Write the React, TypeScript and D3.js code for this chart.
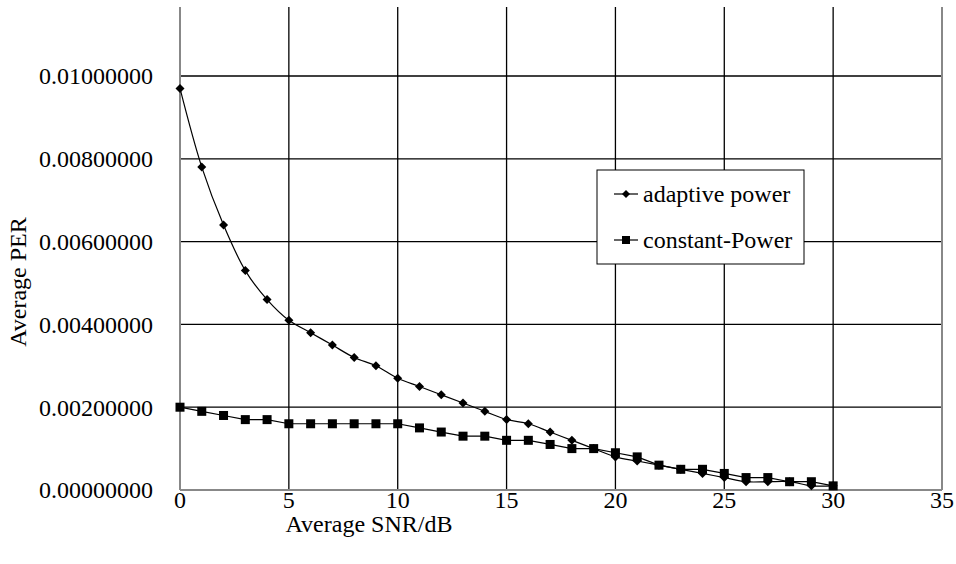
import React from 'react';
import * as d3 from 'd3';

const snr = d3.range(0, 31);
const adaptivePower = [
  0.0097, 0.0078, 0.0064, 0.0053, 0.0046, 0.0041, 0.0038, 0.0035, 0.0032, 0.003,
  0.0027, 0.0025, 0.0023, 0.0021, 0.0019, 0.0017, 0.0016, 0.0014, 0.0012, 0.001,
  0.0008, 0.0007, 0.0006, 0.0005, 0.0004, 0.0003, 0.0002, 0.0002, 0.0002, 0.0001,
  0.0001,
];
const constantPower = [
  0.002, 0.0019, 0.0018, 0.0017, 0.0017, 0.0016, 0.0016, 0.0016, 0.0016, 0.0016,
  0.0016, 0.0015, 0.0014, 0.0013, 0.0013, 0.0012, 0.0012, 0.0011, 0.001, 0.001,
  0.0009, 0.0008, 0.0006, 0.0005, 0.0005, 0.0004, 0.0003, 0.0003, 0.0002, 0.0002,
  0.0001,
];
const xTicks = [0, 5, 10, 15, 20, 25, 30, 35];
const yTicks = [0, 0.002, 0.004, 0.006, 0.008, 0.01];
const seriesNames = ['adaptive power', 'constant-Power'];

const textStyle = { fontFamily: 'Liberation Serif', fontSize: '24px' };

const App: React.FC = () => {
  const width = 956;
  const height = 564;
  const plotTop = 7;
  const x = d3.scaleLinear().domain([0, 35]).range([180, 942]);
  const y = d3.scaleLinear().domain([0, 0.01]).range([490, 76]);

  const smooth = d3.line<number>()
    .x((_, i) => x(snr[i]))
    .y((d) => y(d))
    .curve(d3.curveCatmullRom);
  const straight = d3.line<number>()
    .x((_, i) => x(snr[i]))
    .y((d) => y(d));

  const diamond = (cx: number, cy: number, r: number) =>
    `M${cx},${cy - r}L${cx + r},${cy}L${cx},${cy + r}L${cx - r},${cy}Z`;

  const fmt = d3.format('.8f');

  return (
    <div style={{ position: 'absolute', left: 0, top: 0 }}>
      <svg width={width} height={height} style={{ display: 'block', background: '#fff' }}>
        {/* grid */}
        {yTicks.filter((t) => t > 0).map((t) => (
          <line key={'h' + t} x1={x(0)} x2={x(35)} y1={y(t)} y2={y(t)} stroke="#000" strokeWidth={1.3} />
        ))}
        {xTicks.filter((t) => t > 0 && t < 35).map((t) => (
          <line key={'v' + t} x1={x(t)} x2={x(t)} y1={plotTop} y2={y(0)} stroke="#000" strokeWidth={1.3} />
        ))}
        {/* axes / border */}
        <line x1={x(0)} x2={x(0)} y1={plotTop} y2={y(0)} stroke="#888" strokeWidth={2} />
        <line x1={x(35)} x2={x(35)} y1={plotTop} y2={y(0)} stroke="#888" strokeWidth={2} />
        <line x1={x(0)} x2={x(35)} y1={y(0)} y2={y(0)} stroke="#888" strokeWidth={2} />

        {/* tick labels */}
        {yTicks.map((t) => (
          <text key={'yl' + t} x={153} y={y(t)} dy="0.35em" textAnchor="end" style={textStyle} fill="#000">{fmt(t)}</text>
        ))}
        {xTicks.map((t) => (
          <text key={'xl' + t} x={x(t)} y={508} textAnchor="middle" style={textStyle} fill="#000">{t}</text>
        ))}
        <text x={369} y={532} textAnchor="middle" style={textStyle} fill="#000">Average SNR/dB</text>
        <text transform="translate(26,282) rotate(-90)" textAnchor="middle" style={textStyle} fill="#000">Average PER</text>

        {/* series */}
        <path d={smooth(adaptivePower) || ''} fill="none" stroke="#000" strokeWidth={1.2} />
        <path d={straight(constantPower) || ''} fill="none" stroke="#000" strokeWidth={1.2} />
        {constantPower.map((v, i) => (
          <rect key={'s' + i} x={x(snr[i]) - 4.5} y={y(v) - 4.5} width={9} height={9} fill="#000" />
        ))}
        {adaptivePower.map((v, i) => (
          <path key={'d' + i} d={diamond(x(snr[i]), y(v), 4.5)} fill="#000" />
        ))}

        {/* legend */}
        <rect x={597} y={170} width={207} height={94} fill="#fff" stroke="#000" strokeWidth={1} />
        {seriesNames.map((name, i) => {
          const ly = 194 + i * 46;
          return (
            <g key={name}>
              <line x1={614} x2={638} y1={ly} y2={ly} stroke="#000" strokeWidth={1.2} />
              {i === 0
                ? <path d={diamond(626, ly, 4)} fill="#000" />
                : <rect x={622} y={ly - 4} width={8} height={8} fill="#000" />}
              <text x={643} y={ly} dy="0.35em" style={textStyle} fill="#000">{name}</text>
            </g>
          );
        })}
      </svg>
    </div>
  );
};

export default App;
